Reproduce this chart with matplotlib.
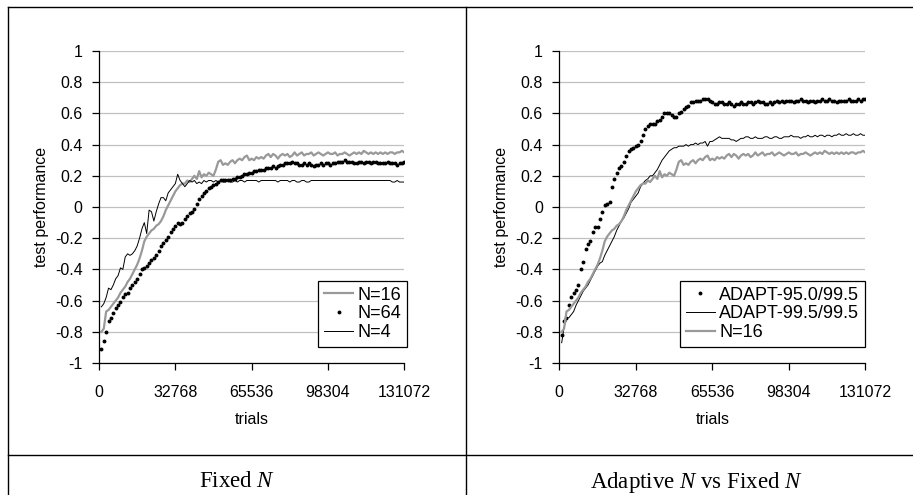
import numpy as np
import matplotlib
matplotlib.use("Agg")
import matplotlib.pyplot as plt
from matplotlib.lines import Line2D

plt.rcParams['font.family'] = ['Liberation Sans', 'DejaVu Sans']
plt.rcParams['axes.unicode_minus'] = False
plt.rcParams['mathtext.fontset'] = 'custom'
plt.rcParams['mathtext.rm'] = 'Liberation Serif'
plt.rcParams['mathtext.it'] = 'Liberation Serif:italic'

# samples every 1024 trials
trials = np.arange(1, 129) * 1024

n16 = [-0.80, -0.78, -0.67, -0.66, -0.64, -0.62, -0.60, -0.58, -0.55, -0.53, -0.51, -0.48, -0.46, -0.43, -0.40, -0.37,
       -0.33, -0.28, -0.22, -0.19, -0.17, -0.15, -0.14, -0.12, -0.11, -0.09, -0.06, -0.02, 0.01, 0.04, 0.07, 0.10,
       0.12, 0.14, 0.15, 0.15, 0.17, 0.16, 0.18, 0.20, 0.18, 0.23, 0.19, 0.21, 0.20, 0.22, 0.21, 0.20,
       0.24, 0.29, 0.30, 0.27, 0.28, 0.27, 0.29, 0.30, 0.28, 0.30, 0.31, 0.30, 0.32, 0.33, 0.30, 0.31,
       0.30, 0.32, 0.31, 0.32, 0.31, 0.33, 0.34, 0.32, 0.34, 0.33, 0.31, 0.33, 0.34, 0.33, 0.34, 0.32,
       0.33, 0.35, 0.33, 0.34, 0.35, 0.33, 0.34, 0.34, 0.35, 0.33, 0.34, 0.35, 0.34, 0.33, 0.34, 0.35,
       0.34, 0.34, 0.35, 0.33, 0.34, 0.34, 0.35, 0.34, 0.33, 0.34, 0.35, 0.34, 0.35, 0.34, 0.36, 0.35,
       0.34, 0.35, 0.34, 0.35, 0.34, 0.35, 0.34, 0.35, 0.34, 0.35, 0.35, 0.34, 0.35, 0.35, 0.36, 0.35]

n64 = [-0.91, -0.86, -0.80, -0.73, -0.71, -0.68, -0.65, -0.63, -0.61, -0.58, -0.56, -0.55, -0.52, -0.50, -0.48, -0.46,
       -0.43, -0.40, -0.39, -0.38, -0.36, -0.34, -0.33, -0.31, -0.28, -0.25, -0.23, -0.21, -0.19, -0.16, -0.14, -0.12,
       -0.10, -0.11, -0.10, -0.08, -0.06, -0.04, -0.03, -0.01, 0.02, 0.05, 0.07, 0.09, 0.10, 0.12, 0.13, 0.14,
       0.15, 0.16, 0.17, 0.17, 0.17, 0.17, 0.17, 0.18, 0.18, 0.19, 0.19, 0.20, 0.21, 0.21, 0.22, 0.22,
       0.23, 0.23, 0.24, 0.24, 0.24, 0.25, 0.25, 0.25, 0.26, 0.25, 0.26, 0.27, 0.27, 0.28, 0.28, 0.28,
       0.29, 0.28, 0.28, 0.27, 0.27, 0.28, 0.27, 0.28, 0.27, 0.26, 0.27, 0.27, 0.28, 0.27, 0.28, 0.28,
       0.27, 0.28, 0.28, 0.29, 0.29, 0.29, 0.30, 0.29, 0.29, 0.29, 0.28, 0.28, 0.29, 0.29, 0.28, 0.29,
       0.29, 0.28, 0.29, 0.29, 0.28, 0.28, 0.28, 0.28, 0.29, 0.28, 0.28, 0.28, 0.27, 0.28, 0.28, 0.29]

n4 = [-0.64, -0.62, -0.58, -0.52, -0.53, -0.50, -0.46, -0.44, -0.39, -0.40, -0.32, -0.30, -0.31, -0.30, -0.28, -0.25,
      -0.20, -0.14, -0.10, -0.17, -0.02, -0.03, -0.09, -0.03, 0.02, 0.06, 0.06, 0.04, 0.09, 0.11, 0.13, 0.15,
      0.21, 0.17, 0.15, 0.13, 0.15, 0.17, 0.16, 0.17, 0.15, 0.16, 0.15, 0.17, 0.16, 0.17, 0.17, 0.16,
      0.17, 0.16, 0.17, 0.16, 0.16, 0.17, 0.16, 0.16, 0.17, 0.16, 0.17, 0.17, 0.16, 0.17, 0.17, 0.17,
      0.17, 0.17, 0.16, 0.17, 0.17, 0.17, 0.17, 0.17, 0.17, 0.17, 0.16, 0.17, 0.17, 0.17, 0.17, 0.16,
      0.17, 0.17, 0.16, 0.16, 0.17, 0.17, 0.16, 0.16, 0.17, 0.17, 0.17, 0.17, 0.17, 0.17, 0.17, 0.17,
      0.17, 0.17, 0.17, 0.17, 0.17, 0.17, 0.17, 0.17, 0.17, 0.17, 0.17, 0.17, 0.17, 0.17, 0.17, 0.17,
      0.17, 0.17, 0.17, 0.17, 0.17, 0.17, 0.17, 0.17, 0.17, 0.17, 0.16, 0.16, 0.17, 0.16, 0.16, 0.16]

adapt_950 = [-0.82, -0.73, -0.71, -0.63, -0.58, -0.55, -0.53, -0.50, -0.40, -0.35, -0.27, -0.24, -0.22, -0.16, -0.13, -0.13,
             -0.08, -0.03, 0.01, 0.02, 0.03, 0.13, 0.18, 0.22, 0.25, 0.26, 0.29, 0.33, 0.36, 0.37, 0.38, 0.39,
             0.40, 0.42, 0.46, 0.50, 0.52, 0.53, 0.53, 0.53, 0.55, 0.56, 0.58, 0.60, 0.60, 0.60, 0.59, 0.58,
             0.58, 0.60, 0.61, 0.63, 0.64, 0.65, 0.67, 0.67, 0.68, 0.68, 0.68, 0.69, 0.69, 0.69, 0.68, 0.67,
             0.66, 0.66, 0.67, 0.67, 0.66, 0.66, 0.67, 0.66, 0.65, 0.66, 0.66, 0.67, 0.66, 0.66, 0.67, 0.67,
             0.66, 0.67, 0.68, 0.67, 0.67, 0.66, 0.66, 0.67, 0.66, 0.67, 0.68, 0.67, 0.68, 0.67, 0.68, 0.68,
             0.68, 0.67, 0.68, 0.68, 0.69, 0.68, 0.68, 0.67, 0.68, 0.68, 0.67, 0.68, 0.68, 0.69, 0.68, 0.68,
             0.69, 0.68, 0.68, 0.67, 0.68, 0.68, 0.68, 0.68, 0.69, 0.68, 0.68, 0.68, 0.69, 0.68, 0.69, 0.69]

adapt_995 = [-0.87, -0.77, -0.71, -0.71, -0.69, -0.67, -0.63, -0.60, -0.57, -0.54, -0.52, -0.50, -0.47, -0.44, -0.41, -0.38,
             -0.36, -0.35, -0.31, -0.28, -0.25, -0.22, -0.19, -0.15, -0.12, -0.09, -0.07, -0.04, -0.01, 0.03, 0.05, 0.07,
             0.09, 0.13, 0.15, 0.17, 0.18, 0.20, 0.20, 0.22, 0.24, 0.27, 0.30, 0.32, 0.34, 0.36, 0.37, 0.38,
             0.38, 0.39, 0.39, 0.39, 0.40, 0.39, 0.40, 0.40, 0.41, 0.40, 0.41, 0.41, 0.42, 0.39, 0.42, 0.42,
             0.43, 0.44, 0.45, 0.44, 0.44, 0.44, 0.44, 0.43, 0.43, 0.42, 0.43, 0.44, 0.44, 0.45, 0.45, 0.44,
             0.44, 0.45, 0.44, 0.44, 0.44, 0.45, 0.45, 0.44, 0.44, 0.45, 0.45, 0.44, 0.44, 0.45, 0.45, 0.45,
             0.46, 0.45, 0.45, 0.45, 0.44, 0.45, 0.45, 0.46, 0.45, 0.45, 0.46, 0.45, 0.46, 0.46, 0.45, 0.46,
             0.46, 0.45, 0.46, 0.46, 0.47, 0.46, 0.46, 0.47, 0.46, 0.46, 0.47, 0.46, 0.46, 0.47, 0.46, 0.46]

x_ticks = [0, 32768, 65536, 98304, 131072]
y_ticks = [1, 0.8, 0.6, 0.4, 0.2, 0, -0.2, -0.4, -0.6, -0.8, -1]
y_labels = ['1', '0.8', '0.6', '0.4', '0.2', '0', '-0.2', '-0.4', '-0.6', '-0.8', '-1']
captions = ['Fixed $N$', 'Adaptive $N$ vs Fixed $N$']

W, H = 913, 495
fig = plt.figure(figsize=(W / 100, H / 100), dpi=100)

GRAY = '#999999'
FS = 11.5
LFS = 13


def px(x0, y0, x1, y1):
    # pixel box (top-left origin) -> figure fraction rect
    return [x0 / W, 1 - y1 / H, (x1 - x0) / W, (y1 - y0) / H]


def style(ax):
    ax.set_xlim(0, 131072)
    ax.set_ylim(-1, 1)
    ax.set_xticks(x_ticks)
    ax.set_xticklabels([str(t) for t in x_ticks])
    ax.set_yticks(y_ticks)
    ax.set_yticklabels(y_labels)
    ax.yaxis.grid(True, color='#c0c0c0', lw=0.9)
    ax.set_axisbelow(True)
    for s in ['top', 'right']:
        ax.spines[s].set_visible(False)
    for s in ['left', 'bottom']:
        ax.spines[s].set_linewidth(0.9)
    ax.tick_params(axis='y', direction='out', length=4.8, width=0.9, pad=7, labelsize=FS)
    ax.tick_params(axis='x', direction='out', length=4.8, width=0.9, pad=11, labelsize=FS)
    ax.set_xlabel('trials', fontsize=FS, labelpad=8.5)
    ax.set_ylabel('test performance', fontsize=FS)
    ax.yaxis.set_label_coords(-0.165, 0.5)


def legend(ax, x_anchor):
    leg = ax.legend(loc='lower right', bbox_to_anchor=(x_anchor, 0.051), borderaxespad=0,
                    fontsize=LFS, frameon=True, fancybox=False, framealpha=1, edgecolor='black',
                    handlelength=1.6, handletextpad=0.25, labelspacing=0.1, borderpad=0.33)
    leg.get_frame().set_linewidth(0.9)


ax1 = fig.add_axes(px(99, 51, 404.3, 363))
ax1.plot(trials, n16, color=GRAY, lw=1.6, label='N=16')
ax1.plot(trials, n64, 'o', color='black', ms=2.8, mec='none', label='N=64')
ax1.plot(trials, n4, color='black', lw=0.7, label='N=4')
style(ax1)
legend(ax1, 1.01)

ax2 = fig.add_axes(px(559.3, 51, 865.3, 363))
ax2.plot(trials, adapt_950, 'o', color='black', ms=2.8, mec='none', label='ADAPT-95.0/99.5')
ax2.plot(trials, adapt_995, color='black', lw=0.7, label='ADAPT-99.5/99.5')
ax2.plot(trials, n16, color=GRAY, lw=1.6, label='N=16')
style(ax2)
legend(ax2, 1.0)


# table borders
def hline(y, x0, x1):
    fig.add_artist(Line2D([x0 / W, x1 / W], [1 - y / H, 1 - y / H], color='black', lw=1.0))


def vline(x, y0, y1):
    fig.add_artist(Line2D([x / W, x / W], [1 - y0 / H, 1 - y1 / H], color='black', lw=1.0))


hline(6.7, 8, W)
hline(454.5, 8, W)
vline(8, 6.7, H)
vline(466, 6.7, H)

fig.text(237 / W, 1 - 487 / H, captions[0], ha='center', va='baseline',
         fontsize=16.5, family='Liberation Serif')
fig.text(696.5 / W, 1 - 488 / H, captions[1], ha='center', va='baseline',
         fontsize=16.5, family='Liberation Serif')

fig.savefig('out.png', dpi=100)
